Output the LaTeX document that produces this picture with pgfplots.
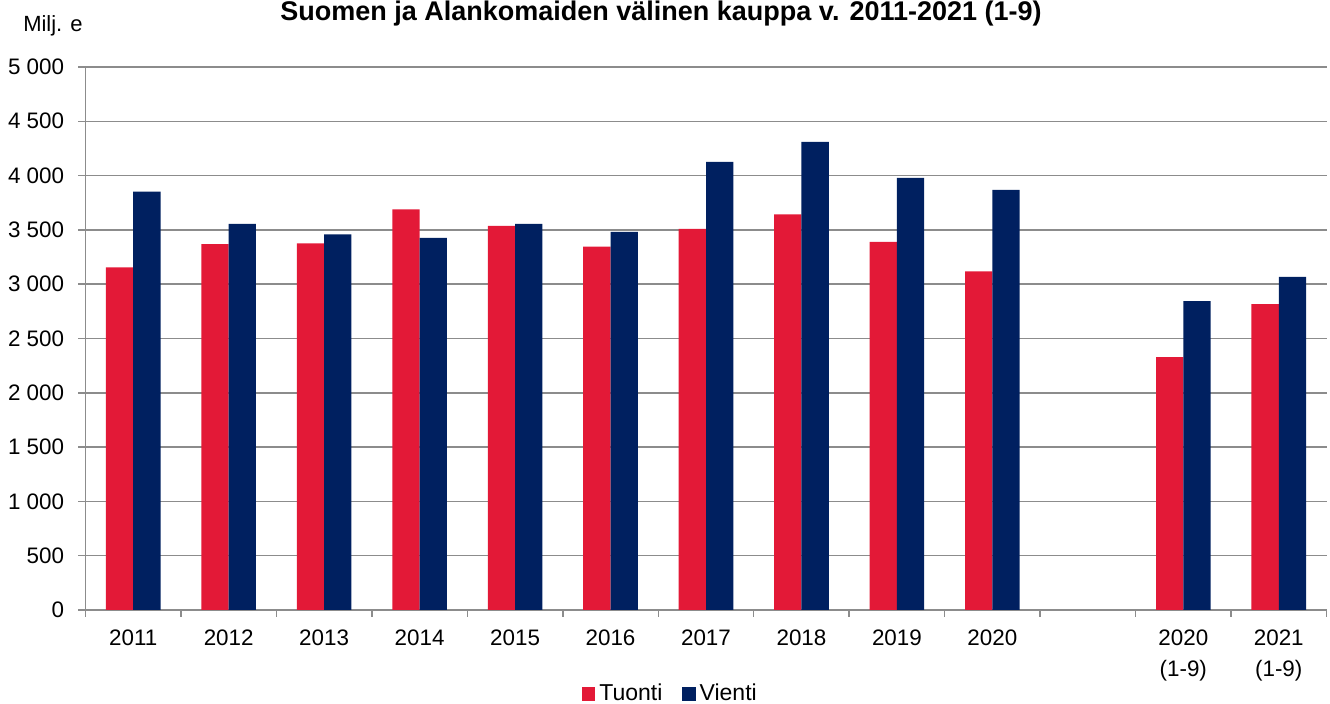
\documentclass[border=0pt]{standalone}
\usepackage{fontspec}
\setmainfont{Liberation Sans}
\usepackage{pgfplots}
\usepackage{pgfplotstable}
\pgfplotsset{compat=1.18}

\definecolor{tuonti}{HTML}{E31937}
\definecolor{vienti}{HTML}{002060}
\definecolor{gridgray}{HTML}{8C8C8C}

% Milj. e, kategoriat 0..12 (10 = tyhja rako)
\pgfplotstableread{
x  tuonti vienti
0  3154   3852
1  3368   3556
2  3375   3458
3  3688   3427
4  3538   3556
5  3347   3482
6  3510   4127
7  3642   4311
8  3390   3980
9  3117   3869
11 2328   2843
12 2816   3068
}\kauppa

\begin{document}
\begin{tikzpicture}
\begin{axis}[
    scale only axis, width=620.5pt, height=271.5pt,
    at={(0,0)}, anchor=south west,
    ybar=0pt, bar width=13.65pt,
    xmin=-0.5, xmax=12.5, ymin=0, ymax=5000,
    axis x line*=bottom, axis y line*=left,
    axis line style={gridgray, line width=0.75pt, -},
    ytick={0,500,...,5000},
    yticklabels={0,500,1 000,1 500,2 000,2 500,3 000,3 500,4 000,4 500,5 000},
    ymajorgrids, grid style={gridgray, line width=0.75pt},
    xtick={0,1,2,3,4,5,6,7,8,9,11,12},
    xticklabels={2011,2012,2013,2014,2015,2016,2017,2018,2019,2020,{2020\\(1-9)},{2021\\(1-9)}},
    major x tick style={draw=none},
    minor xtick={-0.5,0.5,...,12.5},
    tick align=outside, major tick length=3.5pt, minor tick length=3.5pt,
    tick style={gridgray, line width=0.75pt},
    ticklabel style={font=\fontsize{11.2}{15.5}\selectfont},
    xticklabel style={align=center, inner sep=0pt, yshift=-6pt},
    yticklabel style={inner sep=0pt, xshift=-7pt},
    legend style={at={(0.4722,-0.1547)}, anchor=center, draw=none,
        font=\fontsize{11.5}{13}\selectfont, legend columns=2,
        /tikz/every even column/.append style={column sep=8pt}},
    legend image code/.code={\fill[#1] (0pt,-3.3pt) rectangle (6.6pt,3.3pt);},
]
\addplot[fill=tuonti, draw=none] table[x=x, y=tuonti] {\kauppa};
\addplot[fill=vienti, draw=none] table[x=x, y=vienti] {\kauppa};
\legend{Tuonti,Vienti}
\end{axis}
\node[anchor=base, font=\fontsize{13.5}{15}\selectfont\bfseries] at (287.75pt,294.5pt)
    {Suomen ja Alankomaiden välinen kauppa v. 2011-2021 (1-9)};
\node[anchor=base, font=\fontsize{11}{13}\selectfont] at (-16.25pt,289.2pt) {Milj. e};
\pgfresetboundingbox
\useasboundingbox (-42.75pt,-47pt) rectangle (622.25pt,305pt);
\end{tikzpicture}
\end{document}
